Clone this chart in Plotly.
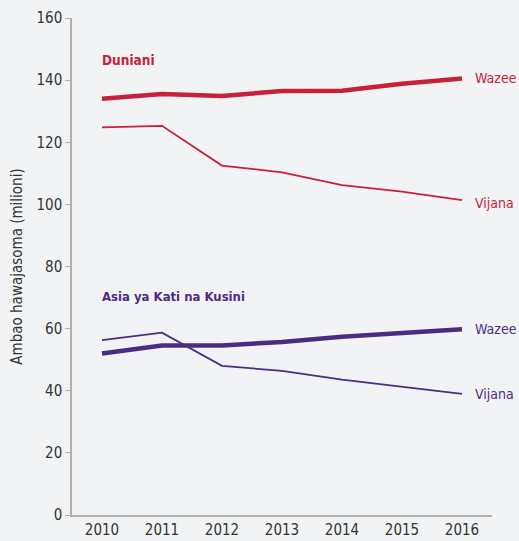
import plotly.graph_objects as go

years = [2010, 2011, 2012, 2013, 2014, 2015, 2016]
world_old = [134.0, 135.5, 134.9, 136.5, 136.6, 138.8, 140.5]
world_young = [124.8, 125.3, 112.5, 110.3, 106.2, 104.1, 101.4]
asia_old = [52.0, 54.6, 54.6, 55.7, 57.4, 58.7, 59.8]
asia_young = [56.3, 58.7, 48.0, 46.4, 43.6, 41.3, 39.0]
y_ticks = [0, 20, 40, 60, 80, 100, 120, 140, 160]

RED = "#c8203a"
PURPLE = "#4b2c84"
FONT = "DejaVu Sans Condensed, Liberation Sans Narrow, Roboto, sans-serif"

fig = go.Figure()
fig.add_trace(go.Scatter(x=years, y=world_old, mode="lines", line=dict(color=RED, width=4.5), cliponaxis=False))
fig.add_trace(go.Scatter(x=years, y=world_young, mode="lines", line=dict(color=RED, width=1.8), cliponaxis=False))
fig.add_trace(go.Scatter(x=years, y=asia_old, mode="lines", line=dict(color=PURPLE, width=4.5), cliponaxis=False))
fig.add_trace(go.Scatter(x=years, y=asia_young, mode="lines", line=dict(color=PURPLE, width=1.8), cliponaxis=False))

ann = [
    dict(x=2010, y=146.5, text="<b>Duniani</b>", color=RED, size=13.5),
    dict(x=2010, y=70.2, text="<b>Asia ya Kati na Kusini</b>", color=PURPLE, size=13),
    dict(x=2016.22, y=140.7, text="Wazee", color=RED, size=14),
    dict(x=2016.22, y=100.6, text="Vijana", color=RED, size=14),
    dict(x=2016.22, y=59.8, text="Wazee", color=PURPLE, size=14),
    dict(x=2016.22, y=39.0, text="Vijana", color=PURPLE, size=14),
]
for a in ann:
    fig.add_annotation(x=a["x"], y=a["y"], text=a["text"], showarrow=False,
                       xanchor="left", yanchor="middle", xshift=-2,
                       font=dict(family=FONT, size=a["size"], color=a["color"]))

fig.update_layout(
    width=519, height=541,
    margin=dict(l=72, r=27, t=18, b=26, autoexpand=False),
    paper_bgcolor="#f2f3f5", plot_bgcolor="#f2f3f5",
    showlegend=False,
    font=dict(family=FONT, size=15, color="#333333"),
    xaxis=dict(range=[2009.5, 2016.5], tickvals=years, showgrid=False, zeroline=False,
               showline=True, linecolor="#b0b0b0", linewidth=1.5, ticks="", automargin=False,
               tickfont=dict(size=15, color="#333333"), fixedrange=True),
    yaxis=dict(range=[0, 160], tickvals=y_ticks, showgrid=False, zeroline=False, automargin=False,
               showline=True, linecolor="#b0b0b0", linewidth=1.5, ticks="outside",
               ticklen=5, tickcolor="#b0b0b0", tickfont=dict(size=15, color="#333333"),
               title=dict(text="Ambao hawajasoma (milioni)", font=dict(size=15, color="#333333"), standoff=10)),
)

fig.write_html("out.html", config={"displayModeBar": False},
               post_script="document.body.style.margin='0';document.body.style.overflow='hidden';")
